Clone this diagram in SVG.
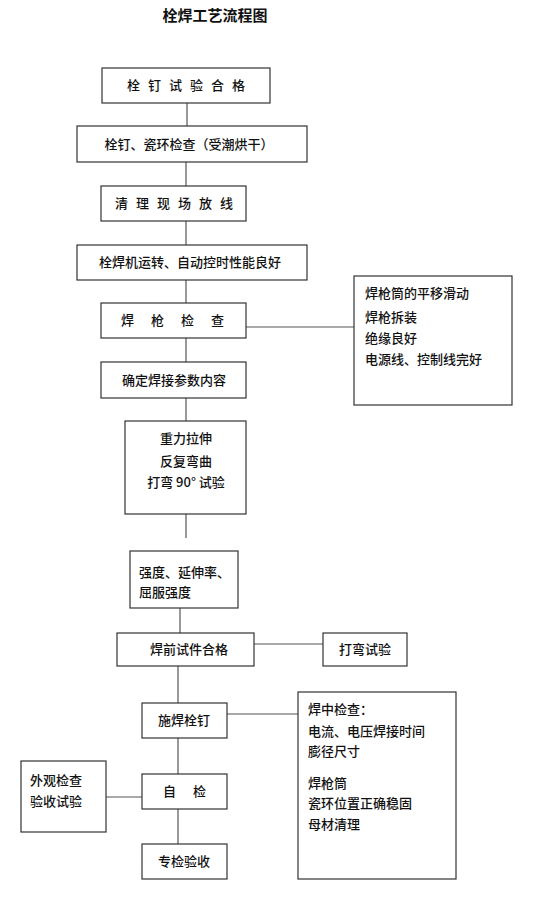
<svg xmlns="http://www.w3.org/2000/svg" width="555" height="914" viewBox="0 0 555 914">
<style>
.bg{fill:#fff}
rect.n{fill:#fff;stroke:#333;stroke-width:1.2}
.c line{stroke:#555;stroke-width:1.2}
text{font-family:"Noto Sans CJK SC","Liberation Sans",sans-serif;font-size:13px;fill:#111;font-weight:500}
.m{text-anchor:middle}
.t{font-size:15px;font-weight:700}
</style>
<rect class="bg" x="0" y="0" width="555" height="914"/>
<text class="t m" x="215" y="21">栓焊工艺流程图</text>
<g class="c" id="connectors">
<line x1="187" y1="103" x2="187" y2="126"/>
<line x1="186" y1="162" x2="186" y2="186"/>
<line x1="186" y1="221" x2="186" y2="245"/>
<line x1="186" y1="280" x2="186" y2="303"/>
<line x1="246" y1="327" x2="354" y2="327"/>
<line x1="186" y1="338" x2="186" y2="362"/>
<line x1="186" y1="398" x2="186" y2="421"/>
<line x1="186" y1="514" x2="186" y2="538"/>
<line x1="180" y1="608" x2="180" y2="633"/>
<line x1="254" y1="644" x2="323" y2="644"/>
<line x1="178" y1="666" x2="178" y2="703"/>
<line x1="227" y1="714" x2="298" y2="714"/>
<line x1="178" y1="738" x2="178" y2="774"/>
<line x1="106" y1="797" x2="142" y2="797"/>
<line x1="178" y1="809" x2="178" y2="844"/>
</g>
<g id="n1"><rect class="n" x="102" y="68" width="168" height="35"/><text class="m" x="190" y="90" letter-spacing="8">栓钉试验合格</text></g>
<g id="n2"><rect class="n" x="77" y="126" width="230" height="36"/><text class="m" x="189" y="149">栓钉、瓷环检查（受潮烘干）</text></g>
<g id="n3"><rect class="n" x="101" y="186" width="145" height="35"/><text class="m" x="178" y="208" letter-spacing="8">清理现场放线</text></g>
<g id="n4"><rect class="n" x="77" y="245" width="230" height="35"/><text class="m" x="190" y="267">栓焊机运转、自动控时性能良好</text></g>
<g id="n5"><rect class="n" x="101" y="303" width="145" height="35"/><text class="m" x="181" y="325" letter-spacing="17">焊枪检查</text></g>
<g id="n5r"><rect class="n" x="354" y="276" width="158" height="129"/>
<text x="365" y="298">焊枪筒的平移滑动</text><text x="365" y="322">焊枪拆装</text><text x="365" y="343">绝缘良好</text><text x="365" y="364">电源线、控制线完好</text></g>
<g id="n6"><rect class="n" x="101" y="362" width="145" height="36"/><text class="m" x="174" y="385">确定焊接参数内容</text></g>
<g id="n7"><rect class="n" x="125" y="421" width="121" height="93"/>
<text class="m" x="186" y="443">重力拉伸</text><text class="m" x="186" y="466">反复弯曲</text><text class="m" x="186" y="487">打弯 90° 试验</text></g>
<g id="n8"><rect class="n" x="130" y="551" width="108" height="57"/>
<text x="139" y="577">强度、延伸率、</text><text x="139" y="597">屈服强度</text></g>
<g id="n9"><rect class="n" x="117" y="633" width="137" height="33"/><text class="m" x="189" y="654">焊前试件合格</text></g>
<g id="n10"><rect class="n" x="323" y="633" width="84" height="33"/><text class="m" x="365" y="654">打弯试验</text></g>
<g id="n11"><rect class="n" x="142" y="703" width="85" height="35"/><text class="m" x="184" y="725">施焊栓钉</text></g>
<g id="n11r"><rect class="n" x="298" y="692" width="158" height="187"/>
<text x="308" y="714">焊中检查：</text><text x="308" y="736">电流、电压焊接时间</text><text x="308" y="756">膨径尺寸</text>
<text x="308" y="788">焊枪筒</text><text x="308" y="808">瓷环位置正确稳固</text><text x="308" y="829">母材清理</text></g>
<g id="n12"><rect class="n" x="142" y="774" width="85" height="35"/><text class="m" x="193" y="796" letter-spacing="17">自检</text></g>
<g id="n12l"><rect class="n" x="21" y="761" width="85" height="71"/>
<text x="30" y="785">外观检查</text><text x="30" y="806">验收试验</text></g>
<g id="n13"><rect class="n" x="142" y="844" width="85" height="35"/><text class="m" x="184" y="866">专检验收</text></g>
</svg>
